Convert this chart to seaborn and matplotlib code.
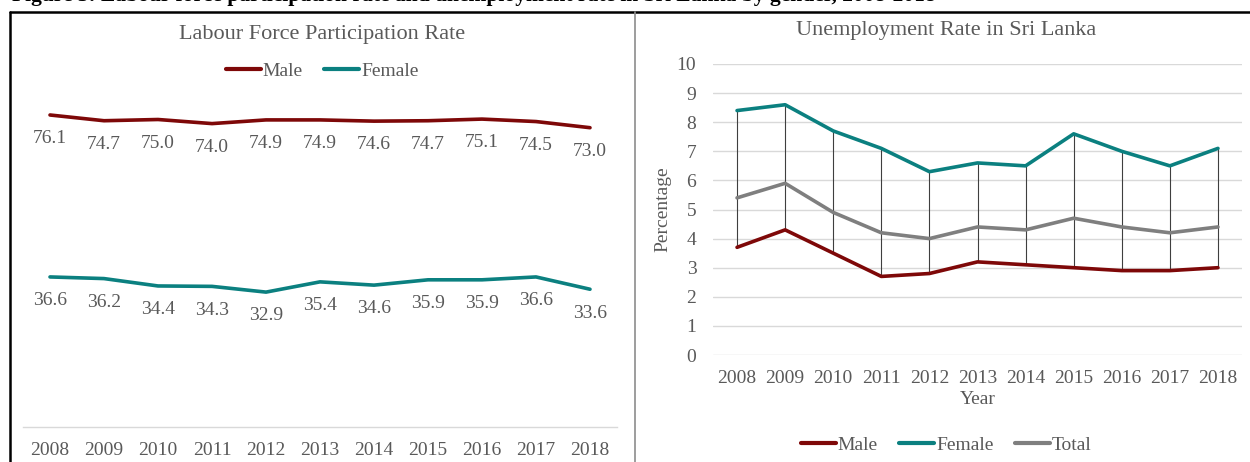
import seaborn as sns
import matplotlib.pyplot as plt
import pandas as pd

# --- data ---
years = [2008, 2009, 2010, 2011, 2012, 2013, 2014, 2015, 2016, 2017, 2018]

lfpr_male = [76.1, 74.7, 75.0, 74.0, 74.9, 74.9, 74.6, 74.7, 75.1, 74.5, 73.0]
lfpr_female = [36.6, 36.2, 34.4, 34.3, 32.9, 35.4, 34.6, 35.9, 35.9, 36.6, 33.6]

unemp_male = [3.7, 4.3, 3.5, 2.7, 2.8, 3.2, 3.1, 3.0, 2.9, 2.9, 3.0]
unemp_female = [8.4, 8.6, 7.7, 7.1, 6.3, 6.6, 6.5, 7.6, 7.0, 6.5, 7.1]
unemp_total = [5.4, 5.9, 4.9, 4.2, 4.0, 4.4, 4.3, 4.7, 4.4, 4.2, 4.4]

MALE = "#7e0808"
FEMALE = "#0b8080"
TOTAL = "#7f7f7f"
TXT = "#595959"
GRID = "#d9d9d9"

lfpr = pd.DataFrame({
    "Year": years * 2,
    "Rate": lfpr_male + lfpr_female,
    "Sex": ["Male"] * len(years) + ["Female"] * len(years),
})
unemp = pd.DataFrame({
    "Year": years * 3,
    "Rate": unemp_male + unemp_female + unemp_total,
    "Sex": ["Male"] * len(years) + ["Female"] * len(years) + ["Total"] * len(years),
})

sns.set_style("white")
plt.rcParams["font.family"] = ["Liberation Serif", "DejaVu Serif"]

W, H = 1250, 462
fig = plt.figure(figsize=(12.5, 4.62), dpi=100)


def box(x0, y0, x1, y1):
    # pixel box (top-left origin) -> figure fraction rect
    return [x0 / W, 1 - y1 / H, (x1 - x0) / W, (y1 - y0) / H]


# --- caption (cut off at the top in the reference) and table borders ---
fig.text(12 / W, 1 - 1.5 / H,
         "Figure 3: Labour force participation rate and unemployment rate in Sri Lanka by gender, 2008-2018",
         fontsize=15.5, weight="bold", va="baseline", ha="left", color="black")
fig.add_artist(plt.Line2D([10 / W, 1], [1 - 12 / H] * 2, color="black", lw=1.8))
fig.add_artist(plt.Line2D([10 / W] * 2, [0, 1 - 12 / H], color="black", lw=1.8))
fig.add_artist(plt.Line2D([635 / W] * 2, [0, 1 - 12 / H], color="#8c8c8c", lw=1.2))

# --- left: labour force participation ---
ax1 = fig.add_axes(box(23, 58, 617, 427))
sns.lineplot(data=lfpr, x="Year", y="Rate", hue="Sex",
             palette={"Male": MALE, "Female": FEMALE}, lw=2.6, ax=ax1, legend=False)
ax1.set_xlim(2007.5, 2018.5)
ax1.set_ylim(0, 90)
ax1.set_yticks([])
ax1.set_xticks(years)
ax1.set_xticklabels([str(y) for y in years])
ax1.tick_params(axis="x", length=0, pad=11, labelsize=14, labelcolor=TXT)
ax1.set_xlabel("")
ax1.set_ylabel("")
for s in ["top", "left", "right"]:
    ax1.spines[s].set_visible(False)
ax1.spines["bottom"].set_color(GRID)
ax1.spines["bottom"].set_linewidth(1)

for series in (lfpr_male, lfpr_female):
    for yr, v in zip(years, series):
        ax1.annotate(f"{v:.1f}", (yr, v), xytext=(0, -11), textcoords="offset points",
                     ha="center", va="top", fontsize=14, color=TXT)

fig.text(322 / W, 1 - 35 / H, "Labour Force Participation Rate",
         ha="center", va="center", fontsize=16, color=TXT)
h1 = [plt.Line2D([], [], color=MALE, lw=3), plt.Line2D([], [], color=FEMALE, lw=3)]
fig.legend(h1, ["Male", "Female"], loc="center", bbox_to_anchor=(322 / W, 1 - 71 / H),
           ncol=2, frameon=False, fontsize=14, labelcolor=TXT, handlelength=1.8,
           handletextpad=0.1, columnspacing=1.1)

# --- right: unemployment rate ---
ax2 = fig.add_axes(box(713, 64, 1242, 355))
lo = [min(a, b, c) for a, b, c in zip(unemp_male, unemp_female, unemp_total)]
hi = [max(a, b, c) for a, b, c in zip(unemp_male, unemp_female, unemp_total)]
ax2.vlines(years, lo, hi, color="#3f3f3f", lw=0.8, zorder=1)
sns.lineplot(data=unemp, x="Year", y="Rate", hue="Sex",
             palette={"Male": MALE, "Female": FEMALE, "Total": TOTAL},
             lw=2.6, ax=ax2, legend=False, zorder=3)
ax2.set_xlim(2007.5, 2018.5)
ax2.set_ylim(0, 10)
ax2.set_yticks(range(0, 11))
ax2.set_xticks(years)
ax2.set_xticklabels([str(y) for y in years])
ax2.yaxis.grid(True, color=GRID, lw=1)
ax2.set_axisbelow(True)
ax2.tick_params(axis="both", length=0, labelsize=14, labelcolor=TXT)
ax2.tick_params(axis="x", pad=11)
ax2.tick_params(axis="y", pad=12)
for s in ax2.spines.values():
    s.set_visible(False)
ax2.set_xlabel("Year", fontsize=14, color=TXT, labelpad=3)
ax2.set_ylabel("Percentage", fontsize=14, color=TXT, labelpad=4)

fig.text(946 / W, 1 - 31 / H, "Unemployment Rate in Sri Lanka",
         ha="center", va="center", fontsize=16, color=TXT)
h2 = [plt.Line2D([], [], color=c, lw=3) for c in (MALE, FEMALE, TOTAL)]
fig.legend(h2, ["Male", "Female", "Total"], loc="center",
           bbox_to_anchor=(946 / W, 1 - 445 / H), ncol=3, frameon=False, fontsize=14,
           labelcolor=TXT, handlelength=1.8, handletextpad=0.1, columnspacing=1.1)

fig.savefig("out.png", dpi=100)
plt.close(fig)
